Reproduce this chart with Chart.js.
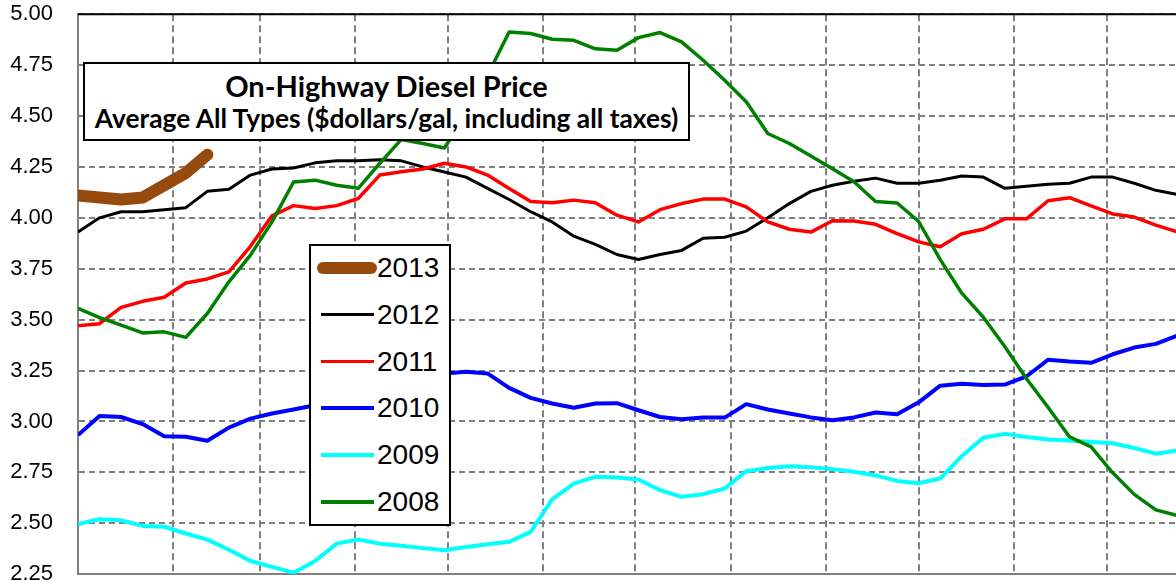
<!DOCTYPE html>
<html lang="en">
<head>
  <meta charset="UTF-8">
  <title>On-Highway Diesel Price</title>
  <script src="https://cdn.jsdelivr.net/npm/chart.js"></script>
  <style>
    html, body {
      margin: 0;
      padding: 0;
      background: #fff;
      overflow: hidden;
    }
    #wrap {
      position: relative;
      width: 1176px;
      height: 581px;
      overflow: hidden;
    }
    #chart {
      position: absolute;
      left: 0;
      top: 0;
    }
    .title-box {
      position: absolute;
      left: 83px;
      top: 62px;
      width: 603px;
      height: 75px;
      background: #fff;
      border: 2px solid #000;
      font-family: 'Lato', sans-serif;
      font-weight: 700;
      text-align: center;
      color: #000;
      white-space: nowrap;
    }
    .title-box .t1 {
      font-size: 29px;
      margin-top: 5px;
      line-height: 34px;
    }
    .title-box .t2 {
      font-size: 26.3px;
      line-height: 30px;
    }
    .legend-box {
      position: absolute;
      left: 309px;
      top: 244px;
      width: 138px;
      height: 278px;
      background: #fff;
      border: 2px solid #000;
    }
    .legend-item {
      position: absolute;
      left: 0;
      height: 30px;
      width: 138px;
    }
    .legend-item .swatch {
      position: absolute;
      left: 10px;
      width: 53px;
    }
    .legend-item .label {
      position: absolute;
      left: 66px;
      top: 0;
      font-family: 'Liberation Sans', Arial, sans-serif;
      font-size: 28px;
      line-height: 30px;
      color: #000;
    }
  </style>
</head>
<body>
  <div id="wrap">
    <canvas id="chart" width="1230" height="600"></canvas>
    <div class="title-box">
      <div class="t1">On-Highway Diesel Price</div>
      <div class="t2">Average All Types ($dollars/gal, including all taxes)</div>
    </div>
    <div class="legend-box" id="legend"></div>
  </div>

  <script>
    // weekly prices, week 0 = first week of January
    const years = ["2013", "2012", "2011", "2010", "2009", "2008"];

    const y2013 = [4.11, 4.10, 4.09, 4.10, 4.16, 4.22, 4.31];

    const y2012 = [3.93, 4.00, 4.03, 4.03, 4.04, 4.05, 4.13, 4.14, 4.21, 4.24,
      4.245, 4.27, 4.28, 4.28, 4.285, 4.28, 4.25, 4.225, 4.20, 4.145,
      4.09, 4.03, 3.98, 3.91, 3.87, 3.82, 3.795, 3.82, 3.84, 3.90,
      3.905, 3.935, 4.00, 4.07, 4.13, 4.16, 4.18, 4.195, 4.17, 4.17,
      4.185, 4.205, 4.20, 4.145, 4.155, 4.165, 4.17, 4.20, 4.20, 4.17,
      4.135, 4.115];

    const y2011 = [3.47, 3.48, 3.56, 3.59, 3.61, 3.68, 3.70, 3.735, 3.86, 4.01,
      4.06, 4.046, 4.06, 4.095, 4.21, 4.226, 4.24, 4.268, 4.25, 4.21,
      4.144, 4.08, 4.074, 4.087, 4.074, 4.013, 3.98, 4.04, 4.07, 4.092,
      4.092, 4.054, 3.98, 3.944, 3.93, 3.986, 3.984, 3.968, 3.922, 3.882,
      3.858, 3.922, 3.944, 3.995, 3.995, 4.084, 4.099, 4.059, 4.019, 4.004,
      3.964, 3.931];

    const y2010 = [2.933, 3.027, 3.022, 2.987, 2.928, 2.925, 2.905, 2.97, 3.014, 3.039,
      3.059, 3.08, 3.10, 3.13, 3.16, 3.19, 3.215, 3.235, 3.244, 3.236,
      3.165, 3.116, 3.088, 3.067, 3.088, 3.09, 3.055, 3.022, 3.011, 3.019,
      3.019, 3.085, 3.059, 3.039, 3.02, 3.006, 3.02, 3.044, 3.035, 3.094,
      3.176, 3.185, 3.179, 3.181, 3.221, 3.303, 3.294, 3.288, 3.33, 3.363,
      3.381, 3.421];

    const y2009 = [2.496, 2.52, 2.515, 2.487, 2.483, 2.45, 2.42, 2.37, 2.315, 2.286,
      2.257, 2.315, 2.40, 2.42, 2.40, 2.39, 2.378, 2.368, 2.384, 2.397,
      2.409, 2.458, 2.617, 2.695, 2.728, 2.725, 2.715, 2.663, 2.63, 2.643,
      2.671, 2.756, 2.772, 2.78, 2.775, 2.766, 2.753, 2.735, 2.708, 2.697,
      2.72, 2.83, 2.92, 2.939, 2.924, 2.911, 2.906, 2.899, 2.893, 2.87,
      2.842, 2.857];

    const y2008 = [3.555, 3.51, 3.473, 3.435, 3.44, 3.413, 3.53, 3.686, 3.817, 3.98,
      4.176, 4.185, 4.16, 4.145, 4.267, 4.385, 4.365, 4.343, 4.51, 4.70,
      4.913, 4.905, 4.877, 4.872, 4.83, 4.823, 4.885, 4.91, 4.864, 4.774,
      4.676, 4.57, 4.414, 4.365, 4.304, 4.241, 4.177, 4.08, 4.073, 3.982,
      3.795, 3.63, 3.512, 3.367, 3.21, 3.07, 2.924, 2.875, 2.748, 2.642,
      2.566, 2.538];

    // day of year where each month starts (vertical grid lines)
    const monthStarts = [0, 31, 59, 90, 120, 151, 181, 212, 243, 273, 304, 334, 365];
    const yTicks = [2.25, 2.50, 2.75, 3.00, 3.25, 3.50, 3.75, 4.00, 4.25, 4.50, 4.75, 5.00];

    const colors = {
      "2013": "#974a0e",
      "2012": "#000000",
      "2011": "#ff0000",
      "2010": "#0000ff",
      "2009": "#00ffff",
      "2008": "#008000"
    };
    const widths = { "2013": 12, "2012": 3, "2011": 3.5, "2010": 4, "2009": 4, "2008": 3.5 };
    const series = { "2013": y2013, "2012": y2012, "2011": y2011, "2010": y2010, "2009": y2009, "2008": y2008 };

    function toPoints(arr) {
      return arr.map((v, i) => ({ x: i, y: v }));
    }

    // Excel draws the later series on top, so 2008 goes first here
    let datasets = years.slice().reverse().map(yr => ({
      label: yr,
      data: toPoints(series[yr]),
      borderColor: colors[yr],
      borderWidth: widths[yr],
      borderCapStyle: yr === "2013" ? "round" : "butt",
      borderJoinStyle: "round",
      pointRadius: 0,
      tension: 0,
      fill: false
    }));

    // black frame line along the top of the plot area
    const topLine = {
      id: 'topLine',
      afterDatasetsDraw(chart) {
        const a = chart.chartArea;
        const c = chart.ctx;
        c.save();
        c.strokeStyle = '#000';
        c.lineWidth = 2;
        c.beginPath();
        c.moveTo(a.left, a.top);
        c.lineTo(a.right, a.top);
        c.stroke();
        c.restore();
      }
    };

    let canvas = document.getElementById("chart");
    let chart = new Chart(canvas, {
      type: 'line',
      data: { datasets: datasets },
      options: {
        responsive: false,
        maintainAspectRatio: false,
        animation: false,
        events: [],
        layout: { padding: { top: 14, bottom: 26, right: 28, left: 0 } },
        plugins: {
          legend: { display: false },
          tooltip: { enabled: false }
        },
        scales: {
          x: {
            type: 'linear',
            min: 0,
            max: 365 / 7,
            afterBuildTicks: s => { s.ticks = monthStarts.map(d => ({ value: d / 7 })); },
            ticks: { display: false },
            grid: { color: '#808080', lineWidth: 2, drawTicks: false },
            border: { color: '#808080', width: 2, dash: [7, 4] }
          },
          y: {
            min: 2.25,
            max: 5.0,
            afterBuildTicks: s => { s.ticks = yTicks.map(v => ({ value: v })); },
            afterFit: s => { s.width = 78; },
            ticks: {
              padding: 25,
              color: '#000',
              font: { family: "'Liberation Sans', Arial, sans-serif", size: 22 },
              callback: v => v.toFixed(2)
            },
            grid: { color: '#808080', lineWidth: 2, drawTicks: false },
            border: { color: '#808080', width: 2, dash: [6, 4] }
          }
        }
      },
      plugins: [topLine]
    });

    // the plot area should run from (78,14) to (1202,574): resize and shift the canvas
    let a = chart.chartArea;
    chart.resize(chart.width + (1124 - (a.right - a.left)), chart.height + (560 - (a.bottom - a.top)));
    a = chart.chartArea;
    canvas.style.left = (78 - a.left) + "px";
    canvas.style.top = (14 - a.top) + "px";

    // legend built from the same series list
    let legend = document.getElementById("legend");
    years.forEach((yr, i) => {
      let item = document.createElement("div");
      item.className = "legend-item";
      item.style.top = (7 + i * 46.8) + "px";
      let sw = document.createElement("div");
      sw.className = "swatch";
      let w = widths[yr];
      sw.style.height = w + "px";
      sw.style.top = (15 - w / 2) + "px";
      sw.style.background = colors[yr];
      if (yr === "2013") {
        sw.style.borderRadius = "6px";
        sw.style.left = "6px";
        sw.style.width = "60px";
      }
      let lab = document.createElement("div");
      lab.className = "label";
      lab.textContent = yr;
      item.appendChild(sw);
      item.appendChild(lab);
      legend.appendChild(item);
    });
  </script>
</body>
</html>
